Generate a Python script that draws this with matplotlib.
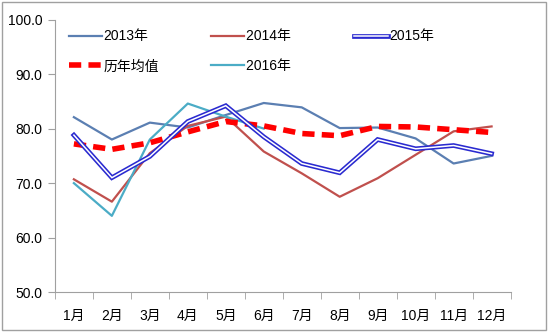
import numpy as np
import matplotlib.pyplot as plt
from matplotlib.patches import Rectangle
from matplotlib.lines import Line2D
from matplotlib.legend_handler import HandlerTuple

plt.rcParams['font.family'] = ['Liberation Sans', 'Noto Sans CJK SC']
plt.rcParams['font.size'] = 10

months = ['1月', '2月', '3月', '4月', '5月', '6月', '7月', '8月', '9月', '10月', '11月', '12月']
y2013 = [82.1, 78.0, 81.1, 80.2, 82.5, 84.7, 83.9, 80.1, 80.2, 78.2, 73.6, 75.0]
y2014 = [70.7, 66.6, 75.5, 80.5, 82.2, 75.8, 71.8, 67.5, 70.9, 75.2, 79.5, 80.4]
y2015 = [78.8, 71.0, 74.9, 81.3, 84.2, 78.5, 73.6, 71.9, 78.0, 76.3, 76.9, 75.4]
y2016 = [70.0, 64.0, 78.0, 84.6, 82.2, 80.0]
avg = [77.2, 76.2, 77.4, 79.4, 81.3, 80.5, 79.1, 78.7, 80.4, 80.3, 79.8, 79.3]

x = np.arange(len(months))

fig = plt.figure(figsize=(5.49, 3.32), dpi=100)
ax = fig.add_axes([0.1, 0.12, 0.83, 0.821])

# 外框
fig.patches.append(Rectangle((0.003, 0.005), 0.992, 0.99, transform=fig.transFigure,
                             fill=False, edgecolor='#a0a0a0', lw=1))

l13, = ax.plot(x, y2013, color='#5b7fb2', lw=1.6, zorder=3)
l14, = ax.plot(x, y2014, color='#c0504d', lw=1.6, zorder=3)
l16, = ax.plot(x[:len(y2016)], y2016, color='#4bacc6', lw=1.6, zorder=3)
lavg, = ax.plot(x, avg, color='#ff0000', lw=4, ls=(0, (2.2, 1.3)), zorder=4)
# 2015年 双线
ax.plot(x, y2015, color='#2a2ad0', lw=3.4, zorder=5, solid_joinstyle='miter')
ax.plot(x, y2015, color='white', lw=1.1, zorder=6, solid_joinstyle='miter')

h15 = (Line2D([], [], color='#2a2ad0', lw=3.4), Line2D([], [], color='white', lw=1.1))

handles = [l13, lavg, l14, l16, h15]
labels = ['2013年', '历年均值', '2014年   ', '2016年   ', '2015年']
ax.legend(handles, labels, ncol=3, frameon=False, loc='upper left',
          bbox_to_anchor=(0.003, 1.01), handlelength=2.4, handletextpad=0.1,
          columnspacing=3.75, labelspacing=1.15,
          handler_map={tuple: HandlerTuple(ndivide=1, pad=0)})

ax.set_xlim(-0.5, 11.5)
ax.set_ylim(50, 100)
ax.set_yticks(np.arange(50, 101, 10))
ax.set_yticklabels(['%.1f' % v for v in np.arange(50, 101, 10)])
ax.set_xticks(x)
ax.set_xticklabels(months)
ax.set_xticks(np.arange(-0.5, 12, 1), minor=True)
ax.tick_params(axis='x', which='major', length=0, pad=12)
ax.tick_params(axis='x', which='minor', length=5, color='#a0a0a0')
ax.tick_params(axis='y', length=5, color='#a0a0a0', pad=4)

for s in ['top', 'right']:
    ax.spines[s].set_visible(False)
for s in ['left', 'bottom']:
    ax.spines[s].set_color('#a0a0a0')

fig.savefig('out.png', dpi=100)
